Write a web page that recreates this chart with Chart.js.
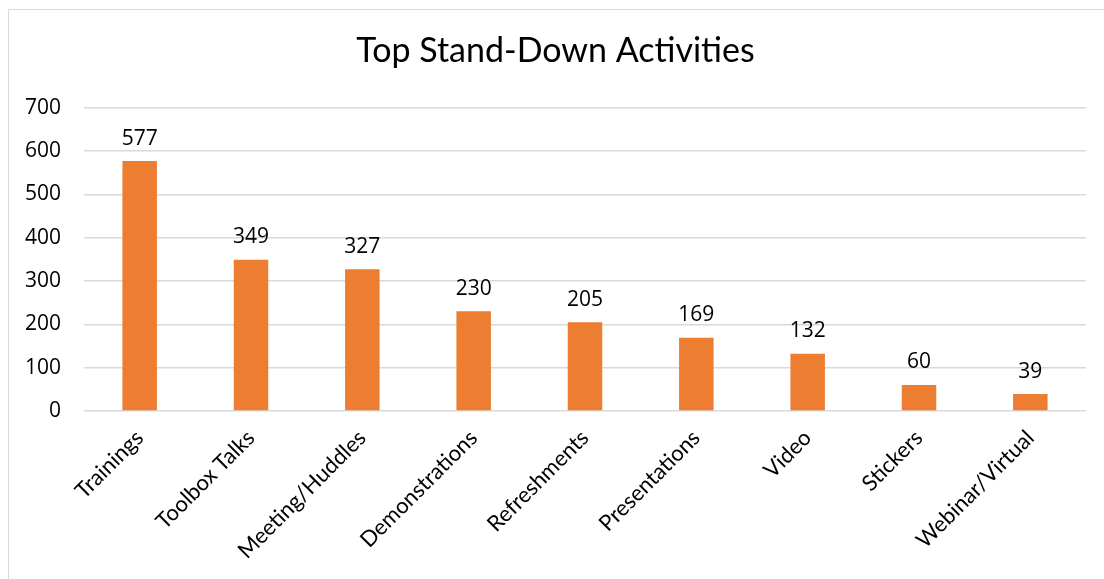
<!DOCTYPE html>
<html>
<head>
<meta charset="utf-8">
<script src="https://cdn.jsdelivr.net/npm/chart.js@4/dist/chart.umd.min.js"></script>
<style>
  body { margin: 0; background: #fff; overflow: hidden; }
  #frame { position: absolute; left: 8px; top: 9px; width: 1200px; height: 700px; border: 1px solid #d9d9d9; }
  #myChart { position: absolute; left: 0; top: 0; }
</style>
</head>
<body>
<div id="frame"></div>
<canvas id="myChart" width="1104" height="579"></canvas>
<script>
// data
const categories = ["Trainings", "Toolbox Talks", "Meeting/Huddles", "Demonstrations", "Refreshments", "Presentations", "Video", "Stickers", "Webinar/Virtual"];
const counts = [577, 349, 327, 230, 205, 169, 132, 60, 39];
const yTicks = [0, 100, 200, 300, 400, 500, 600, 700];

const textFont = "Lato, 'Open Sans', sans-serif";
const numFont = "'Open Sans', Lato, sans-serif";

// value labels above each bar
const valueLabels = {
  id: "valueLabels",
  afterDatasetsDraw(chart) {
    const ctx = chart.ctx;
    ctx.save();
    ctx.font = "21px " + numFont;
    ctx.fillStyle = "#000";
    ctx.textAlign = "center";
    ctx.textBaseline = "bottom";
    chart.getDatasetMeta(0).data.forEach((bar, i) => {
      ctx.fillText(counts[i], bar.x, bar.y - 12);
    });
    ctx.restore();
  },
};

const config = {
  type: "bar",
  data: {
    labels: categories,
    datasets: [
      {
        label: "Count",
        data: counts,
        backgroundColor: "#ED7D31",
        borderWidth: 0,
        barPercentage: 0.31,
        categoryPercentage: 1.0,
      },
    ],
  },
  options: {
    responsive: false,
    animation: false,
    layout: {
      autoPadding: false,
      padding: { left: 25, right: 18, bottom: 9, top: 0 },
    },
    plugins: {
      legend: { display: false },
      tooltip: { enabled: false },
      title: {
        display: true,
        text: "Top Stand-Down Activities",
        color: "#000",
        font: { family: textFont, size: 34, weight: "normal" },
        padding: { top: 31, bottom: 36 },
      },
    },
    scales: {
      y: {
        min: 0,
        max: 700,
        afterBuildTicks: (axis) => {
          axis.ticks = yTicks.map((v) => ({ value: v }));
        },
        afterFit: (axis) => {
          axis.width = 59; // keep plot left edge where the original has it
        },
        border: { display: false },
        grid: { color: "#d9d9d9", lineWidth: 1.5, drawTicks: false },
        ticks: {
          color: "#000",
          padding: 23,
          font: { family: numFont, size: 21 },
        },
      },
      x: {
        border: { display: false },
        grid: { display: false },
        afterFit: (axis) => {
          axis.paddingLeft = 0;
          axis.paddingRight = 0;
        },
        ticks: {
          color: "#000",
          minRotation: 45,
          maxRotation: 45,
          padding: 6,
          font: { family: textFont, size: 22 },
        },
      },
    },
  },
  plugins: [valueLabels],
};

const myChart = new Chart(document.getElementById("myChart"), config);
</script>
</body>
</html>
